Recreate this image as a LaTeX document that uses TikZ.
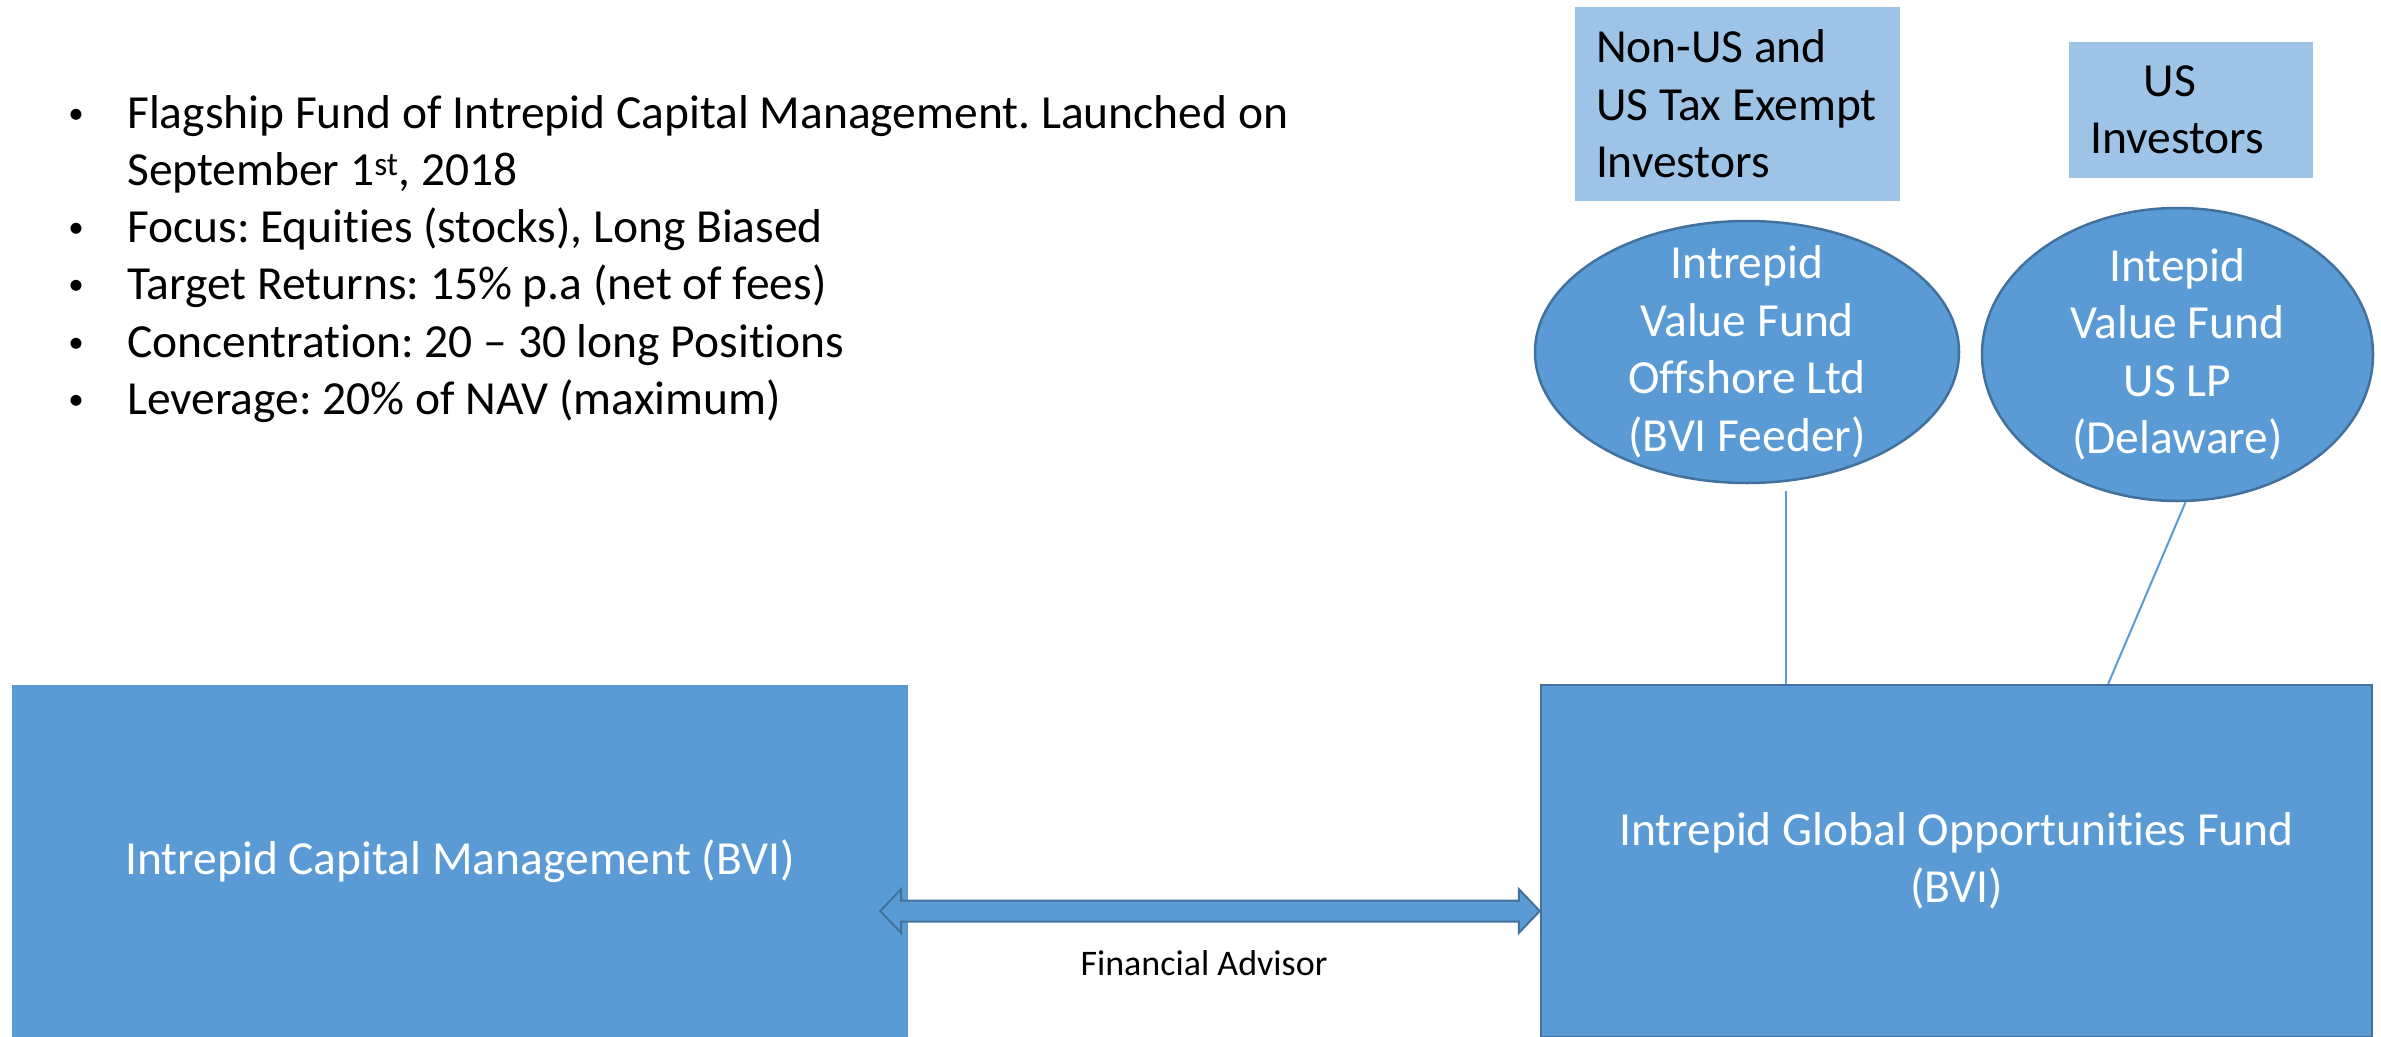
\documentclass[tikz,border=0pt]{standalone}
\usepackage{fontspec}
\setmainfont{Carlito}[RawFeature=-liga]
\usetikzlibrary{shapes.geometric,calc}
\definecolor{fundblue}{HTML}{5B9BD5}
\definecolor{edgeblue}{HTML}{41719C}
\definecolor{paleblue}{HTML}{9DC3E6}
\frenchspacing

\begin{document}
\begin{tikzpicture}[x=1pt,y=-1pt,
  bigfont/.style={font=\fontsize{47.5}{57.5}\selectfont},
  bullettext/.style={bigfont,inner sep=0pt,anchor=base west,text=black},
  bulletdot/.style={font=\fontsize{31}{36}\selectfont,inner sep=0pt,anchor=base,text=black,yshift=5pt},
  entitybox/.style={rectangle,fill=fundblue,inner sep=0pt,text=white,bigfont,align=center},
  investorbox/.style={rectangle,fill=paleblue,inner sep=0pt},
  investortext/.style={bigfont,inner sep=0pt,text=black},
  fundoval/.style={ellipse,fill=fundblue,draw=edgeblue,line width=2.5pt,inner sep=0pt},
  ovaltext/.style={bigfont,inner sep=0pt,text=white,align=center},
  link/.style={draw=fundblue,line width=2pt},
  advisorarrow/.style={fill=fundblue,draw=edgeblue,line width=2pt,line join=miter}
]
\useasboundingbox (0,0) rectangle (2381,1036);
\clip (0,0) rectangle (2381,1036);

% key facts
\node[bulletdot] (d1) at (76,128) {•};
\node[bullettext] (b1) at (127,128) {Flagship Fund of Intrepid Capital Management. Launched on};
\node[bullettext] (b1b) at (127,185) {September 1\textsuperscript{st}, 2018};
\node[bulletdot] (d2) at (76,242) {•};
\node[bullettext] (b2) at (127,242) {Focus: Equities (stocks), Long Biased};
\node[bulletdot] (d3) at (76,299) {•};
\node[bullettext] (b3) at (127,299) {Target Returns: 15\% p.a (net of fees)};
\node[bulletdot] (d4) at (76,357) {•};
\node[bullettext] (b4) at (127,357) {Concentration: 20 – 30 long Positions};
\node[bulletdot] (d5) at (76,414) {•};
\node[bullettext] (b5) at (127,414) {Leverage: 20\% of NAV (maximum)};

% main entities
\node[entitybox,minimum width=896pt,minimum height=352pt] (mgmt) at (460,861)
  {Intrepid Capital Management (BVI)};
\node[entitybox,draw=edgeblue,line width=2.5pt,minimum width=831pt,minimum height=352pt] (fund) at (1956.5,861)
  {Intrepid Global Opportunities Fund\\(BVI)};

% investor groups
\node[investorbox,minimum width=325pt,minimum height=194pt] (nonus) at (1737.5,104) {};
\node[investortext,anchor=west,align=left] (nonust) at ([xshift=21pt]nonus.west)
  {Non-US and\\US Tax Exempt\\Investors};
\node[investorbox,minimum width=244pt,minimum height=136pt] (us) at (2191,110) {};
\node[investortext,align=center] (ust) at (2177,110) {US\kern14pt\\Investors};

% feeder funds
\node[fundoval,minimum width=424pt,minimum height=262pt] (e1) at (1747,352) {};
\node[ovaltext] (e1t) at (e1) {Intrepid\\Value Fund\\Offshore Ltd\\(BVI Feeder)};
\node[fundoval,minimum width=391pt,minimum height=293pt] (e2) at (2177.5,354.5) {};
\node[ovaltext] (e2t) at (e2) {Intepid\\Value Fund\\US LP\\(Delaware)};

% feeder links into the master fund
\coordinate (f1) at ($(e1.south)+(39,7)$);
\draw[link] (f1) -- (f1 |- fund.north);
\draw[link] ($(e2.south)+(8,0)$) -- ($(fund.north west)!0.682!(fund.north east)$);

% advisory relationship
\coordinate (aL) at ($(mgmt.east)+(-28,50)$);
\coordinate (aR) at (fund.west |- aL);
\draw[advisorarrow] (aL) -- ++(21,-22) -- ++(0,11.5) -- ($(aR)+(-21,-10.5)$) -- ++(0,-11.5)
  -- (aR) -- ++(-21,22) -- ++(0,-11.5) -- ($(aL)+(21,10.5)$) -- ++(0,11.5) -- cycle;
\node[font=\fontsize{36}{43}\selectfont,inner sep=0pt,anchor=base] (fa) at (1204,975) {Financial Advisor};
\end{tikzpicture}
\end{document}
